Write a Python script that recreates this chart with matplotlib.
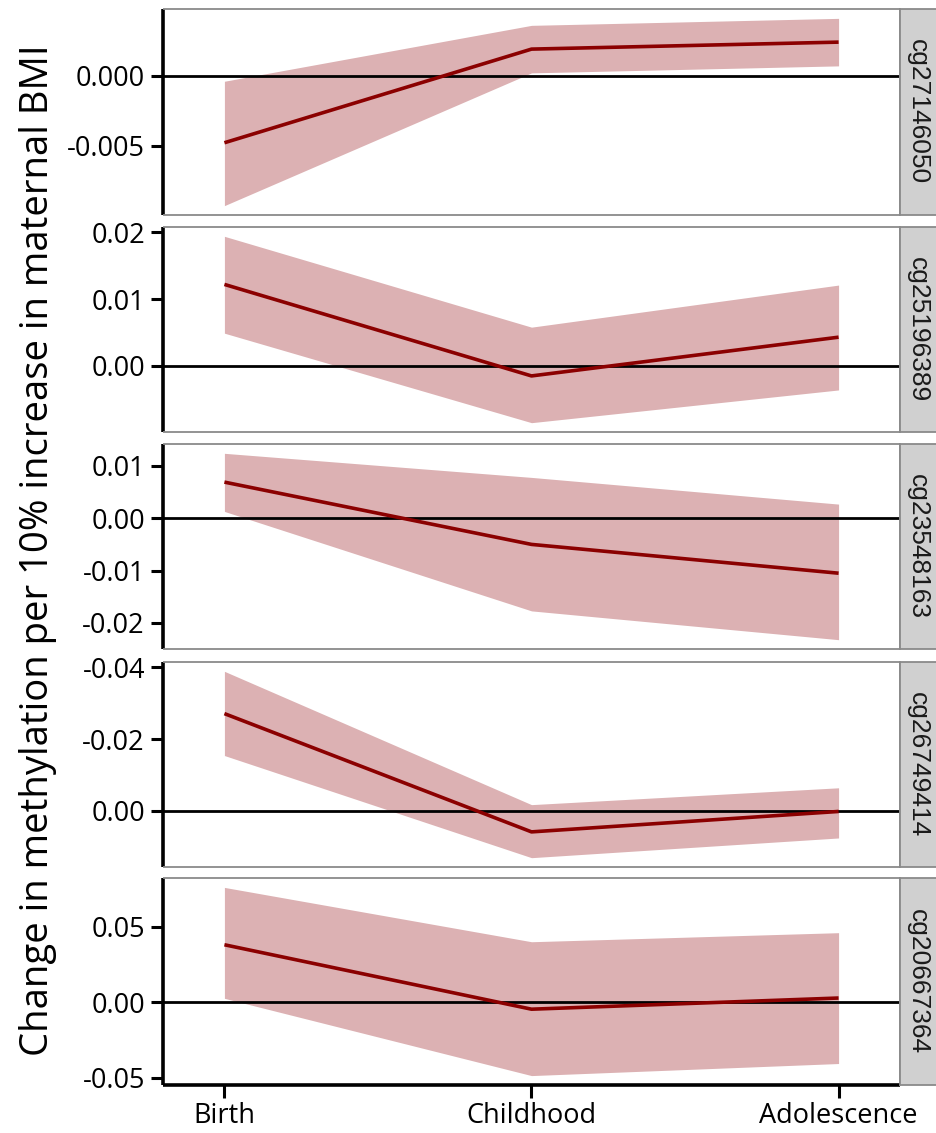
import numpy as np
import matplotlib
matplotlib.use('Agg')
import matplotlib.pyplot as plt

# time points and probes
STAGES = ['Birth', 'Childhood', 'Adolescence']
PROBES = ['cg27146050', 'cg25196389', 'cg23548163', 'cg26749414', 'cg20667364']

# effect estimates and 95% CI
EST = [
    [-0.0048, 0.0019, 0.0024],
    [0.0122, -0.0015, 0.0043],
    [0.0069, -0.0050, -0.0105],
    [0.0271, -0.0059, -0.0002],
    [0.0380, -0.0047, 0.0027],
]
LOWER = [
    [-0.0093, 0.0002, 0.0007],
    [0.0049, -0.0085, -0.0036],
    [0.0013, -0.0177, -0.0232],
    [0.0154, -0.0131, -0.0076],
    [0.0025, -0.0487, -0.0407],
]
UPPER = [
    [-0.0004, 0.0036, 0.0041],
    [0.0194, 0.0058, 0.0121],
    [0.0124, 0.0078, 0.0027],
    [0.0389, 0.0017, 0.0064],
    [0.0760, 0.0400, 0.0460],
]

# y ticks per panel (labels as printed in the original)
YTICKS = [
    [-0.005, 0.0],
    [0.0, 0.01, 0.02],
    [-0.02, -0.01, 0.0, 0.01],
    [0.0, 0.02, 0.04],
    [-0.05, 0.0, 0.05],
]
YTICKLABELS = [
    ['-0.005', '0.000'],
    ['0.00', '0.01', '0.02'],
    ['-0.02', '-0.01', '0.00', '0.01'],
    ['0.00', '-0.02', '-0.04'],
    ['-0.05', '0.00', '0.05'],
]

W, H = 937, 1133
LEFT, RIGHT = 163, 900
PANELS_PX = [(9, 215), (227, 432), (444, 649), (662, 867), (878, 1085)]

LINE_COL = '#8B0000'
RIBBON_COL = '#DCB1B3'
BORDER_COL = '#8A8A8A'
STRIP_COL = '#D0D0D0'
TICK_FONT = ['Open Sans', 'DejaVu Sans']

fig = plt.figure(figsize=(W / 100, H / 100), dpi=100, facecolor='white')
x = np.arange(1, len(STAGES) + 1)

for i, probe in enumerate(PROBES):
    top, bot = PANELS_PX[i]
    ax = fig.add_axes([LEFT / W, 1 - bot / H, (RIGHT - LEFT) / W, (bot - top) / H])
    lo = np.array(LOWER[i])
    hi = np.array(UPPER[i])
    ax.fill_between(x, lo, hi, color=RIBBON_COL, lw=0, zorder=1)
    ax.axhline(0, color='black', lw=2.0, zorder=2)
    ax.plot(x, EST[i], color=LINE_COL, lw=2.6, zorder=3, solid_capstyle='butt')

    ymin, ymax = lo.min(), hi.max()
    pad = (ymax - ymin) * 0.05
    ax.set_ylim(ymin - pad, ymax + pad)
    ax.set_xlim(0.8, 3.2)
    ax.set_yticks(YTICKS[i])
    ax.set_yticklabels(YTICKLABELS[i], fontsize=19.5, family=TICK_FONT)

    for s in ['top', 'right', 'bottom']:
        ax.spines[s].set_color(BORDER_COL)
        ax.spines[s].set_linewidth(1.3)
    ax.spines['left'].set_color('black')
    ax.spines['left'].set_linewidth(2.6)
    for s in ax.spines.values():
        s.set_capstyle('butt')
    ax.tick_params(axis='y', length=9, width=2.2, color='black', pad=4)

    if i == len(PROBES) - 1:
        ax.spines['bottom'].set_color('black')
        ax.spines['bottom'].set_linewidth(2.6)
        ax.set_xticks(x)
        ax.set_xticklabels(STAGES, fontsize=19.5, family=TICK_FONT)
        ax.tick_params(axis='x', length=9, width=2.2, color='black', pad=3)
    else:
        ax.set_xticks([])

    # facet strip on the right
    sax = fig.add_axes([RIGHT / W, 1 - bot / H, 40 / W, (bot - top) / H])
    sax.set_facecolor(STRIP_COL)
    sax.set_xticks([])
    sax.set_yticks([])
    for s in sax.spines.values():
        s.set_color(BORDER_COL)
        s.set_linewidth(1.3)
    sax.text(0.45, 0.5, probe, rotation=-90, ha='center', va='center',
             fontsize=19, family=['Liberation Sans', 'DejaVu Sans'],
             color='#1A1A1A', transform=sax.transAxes)

fig.text(38 / W, 1 - 550 / H, 'Change in methylation per 10% increase in maternal BMI',
         rotation=90, ha='center', va='center', fontsize=27.5, family=TICK_FONT)

fig.savefig('out.png', dpi=100, facecolor='white')
